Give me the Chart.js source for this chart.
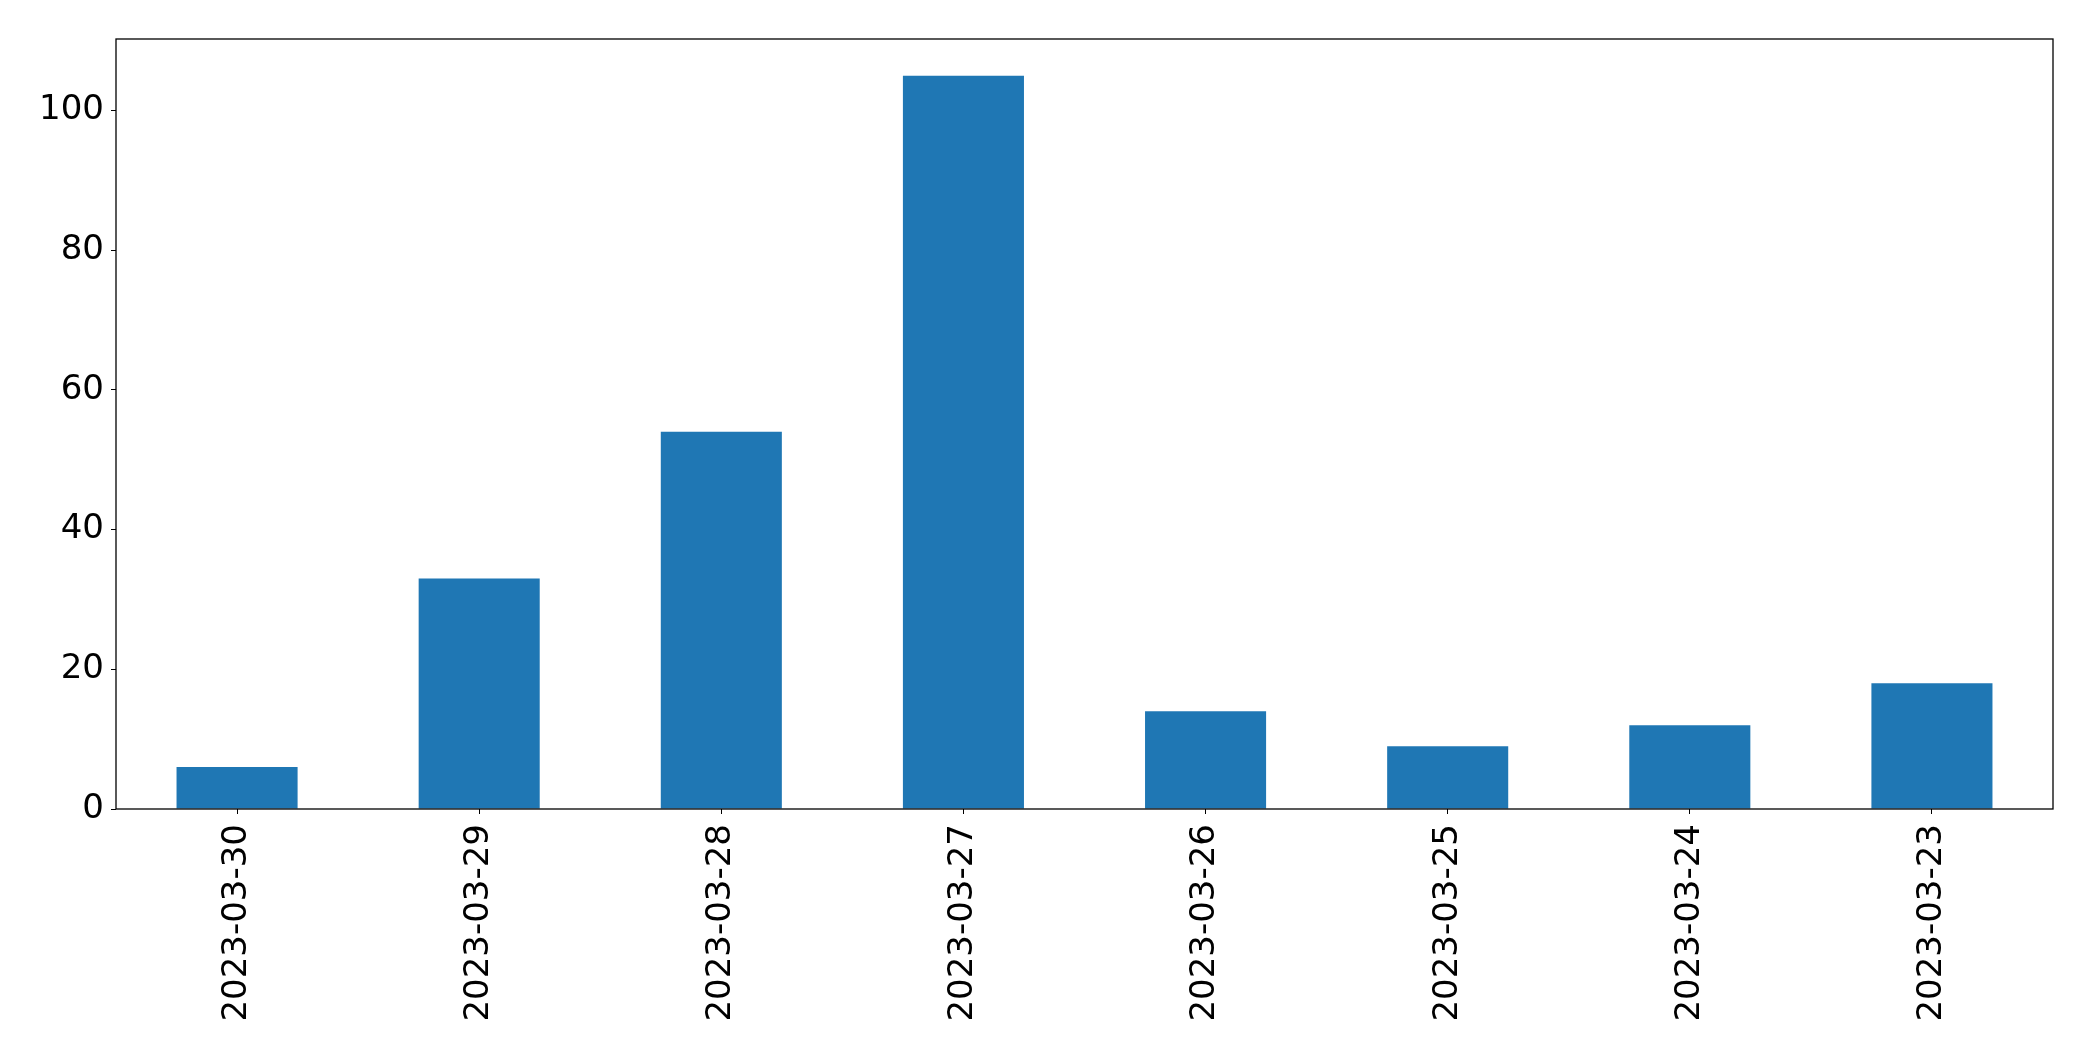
<!DOCTYPE html>
<html>
<head>
<meta charset="utf-8">
<script src="https://cdn.jsdelivr.net/npm/chart.js@4"></script>
<style>
  html, body { margin: 0; padding: 0; background: #fff; }
  canvas { display: block; }
</style>
</head>
<body>
<canvas id="myChart" width="2093" height="1061"></canvas>
<script>
// dates (x axis), newest first like the original plot
const dayLabels = ['2023-03-30', '2023-03-29', '2023-03-28', '2023-03-27', '2023-03-26', '2023-03-25', '2023-03-24', '2023-03-23']
const dayCounts = [6, 33, 54, 105, 14, 9, 12, 18]
const yTicks = [0, 20, 40, 60, 80, 100]

// draw the box round the plot area
const frame = {
    id: 'frame',
    afterDraw(chart) {
        const c = chart.ctx
        const a = chart.chartArea
        c.save()
        c.strokeStyle = '#000'
        c.lineWidth = 1.3
        c.strokeRect(a.left, a.top, a.right - a.left, a.bottom - a.top)
        c.restore()
    }
}

let ctx = document.getElementById('myChart').getContext('2d')

let barChart = new Chart(ctx, {
    type: 'bar',
    data: {
        labels: dayLabels,
        datasets: [{
            data: dayCounts,
            backgroundColor: '#1f77b4',
            barPercentage: 0.5,
            categoryPercentage: 1.0
        }]
    },
    options: {
        responsive: false,
        animation: false,
        devicePixelRatio: 1,
        layout: { padding: { top: 39, right: 40, left: 0, bottom: 0 } },
        plugins: { legend: { display: false }, tooltip: { enabled: false } },
        scales: {
            x: {
                grid: { display: true, offset: false, drawOnChartArea: false, drawTicks: true, tickLength: 5, color: '#000' },
                border: { display: false },
                ticks: {
                    color: '#000',
                    font: { family: 'DejaVu Sans', size: 34 },
                    minRotation: 90,
                    maxRotation: 90,
                    padding: 10
                },
                afterFit(scale) { scale.height = 252 }
            },
            y: {
                min: 0,
                max: 110.25,
                grid: { display: true, drawOnChartArea: false, drawTicks: true, tickLength: 5, color: '#000' },
                border: { display: false },
                afterBuildTicks(scale) { scale.ticks = yTicks.map(v => ({ value: v })) },
                ticks: {
                    color: '#000',
                    font: { family: 'DejaVu Sans', size: 34 },
                    padding: 7
                },
                afterFit(scale) { scale.width = 116 }
            }
        }
    },
    plugins: [frame]
})
</script>
</body>
</html>
